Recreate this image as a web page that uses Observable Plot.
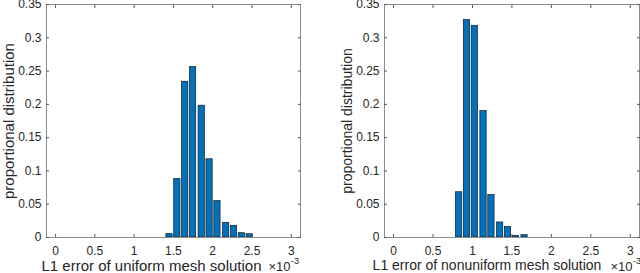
<!DOCTYPE html>
<html><head><meta charset="utf-8">
<script src="https://cdn.jsdelivr.net/npm/d3@7"></script>
<script src="https://cdn.jsdelivr.net/npm/@observablehq/plot@0.6"></script>
<style>
body{margin:0;background:#fff;}
#row{display:flex;width:640px;height:273px;overflow:hidden;}
#row svg{flex:none;}
</style></head><body><div id="row"></div>
<script>
// Bin centres (×10^-3) and proportional distribution values
const uniformCenters = [1.45, 1.55, 1.65, 1.75, 1.86, 1.96, 2.06, 2.17, 2.27, 2.37, 2.47];
const uniformShares  = [0.005, 0.088, 0.234, 0.256, 0.198, 0.1175, 0.0547, 0.022, 0.0176, 0.0065, 0.005];
const nonuniformCenters = [0.83, 0.93, 1.03, 1.14, 1.24, 1.35, 1.45, 1.55, 1.66];
const nonuniformShares  = [0.068, 0.3265, 0.318, 0.19, 0.064, 0.0226, 0.016, 0.0025, 0.0035];
const xTicks = [0, 0.5, 1, 1.5, 2, 2.5, 3];
const yTicks = [0, 0.05, 0.1, 0.15, 0.2, 0.25, 0.3, 0.35];
const yLabel = "proportional distribution";
const xLabels = ["L1 error of uniform mesh solution", "L1 error of nonuniform mesh solution"];
const xExponent = ["×10", "-3"];

const FONT = "'Liberation Sans', Arial, Helvetica, sans-serif";
const TXT = "#262626";
const AX = "#8c8c8c";

function panel({centers, shares, xLabel, marginLeft, marginRight, labelDx, expDx, labelSize}) {
  const data = centers.map((c, i) => ({c, v: shares[i]}));
  const half = 0.04;
  return Plot.plot({
    width: 320, height: 273,
    marginLeft, marginRight, marginTop: 4, marginBottom: 36,
    style: {fontFamily: FONT, fontSize: "12px", color: TXT, background: "#fff"},
    x: {domain: [-0.115, 3.117]},
    y: {domain: [0, 0.35]},
    marks: [
      Plot.rect(data, {x1: d => d.c - half, x2: d => d.c + half, y1: 0, y2: "v", fill: "#0072BD", stroke: "#1a1a1a", strokeWidth: 0.7}),
      Plot.frame({stroke: AX}),
      Plot.axisX({ticks: xTicks, tickSize: 0, tickPadding: 9, tickFormat: d => String(d), label: null, fill: TXT}),
      Plot.axisX({ticks: xTicks, tickSize: -3, tickFormat: () => "", label: null, stroke: "#555"}),
      Plot.axisX({anchor: "top", ticks: xTicks, tickSize: -3, tickFormat: () => "", label: null, stroke: "#555"}),
      Plot.axisY({ticks: yTicks, tickSize: 0, tickPadding: 5, tickFormat: d => String(d), label: null, fill: TXT}),
      Plot.axisY({ticks: yTicks, tickSize: -3, tickFormat: () => "", label: null, stroke: "#555"}),
      Plot.axisY({anchor: "right", ticks: yTicks, tickSize: -3, tickFormat: () => "", label: null, stroke: "#555"}),
      Plot.text([yLabel], {frameAnchor: "left", text: d => d, rotate: -90, textAnchor: "middle", dx: -37, lineAnchor: "middle", fontSize: labelSize, fill: TXT}),
      Plot.text([xLabel], {frameAnchor: "bottom", text: d => d, textAnchor: "middle", dx: labelDx, dy: 28.5, lineAnchor: "middle", fontSize: labelSize, fill: TXT}),
      Plot.text([xExponent[0]], {frameAnchor: "bottom-right", text: d => d, textAnchor: "end", dx: expDx, dy: 29.5, lineAnchor: "middle", fontSize: 13, fill: TXT}),
      Plot.text([xExponent[1]], {frameAnchor: "bottom-right", text: d => d, textAnchor: "start", dx: expDx + 0.5, dy: 24, lineAnchor: "middle", fontSize: 9, fill: TXT})
    ]
  });
}

const row = document.getElementById("row");
row.appendChild(panel({centers: uniformCenters, shares: uniformShares, xLabel: xLabels[0], marginLeft: 46, marginRight: 20, labelDx: -22, expDx: -10, labelSize: 15}));
row.appendChild(panel({centers: nonuniformCenters, shares: nonuniformShares, xLabel: xLabels[1], marginLeft: 64, marginRight: 1, labelDx: -25, expDx: -7, labelSize: 14}));
</script></body></html>
